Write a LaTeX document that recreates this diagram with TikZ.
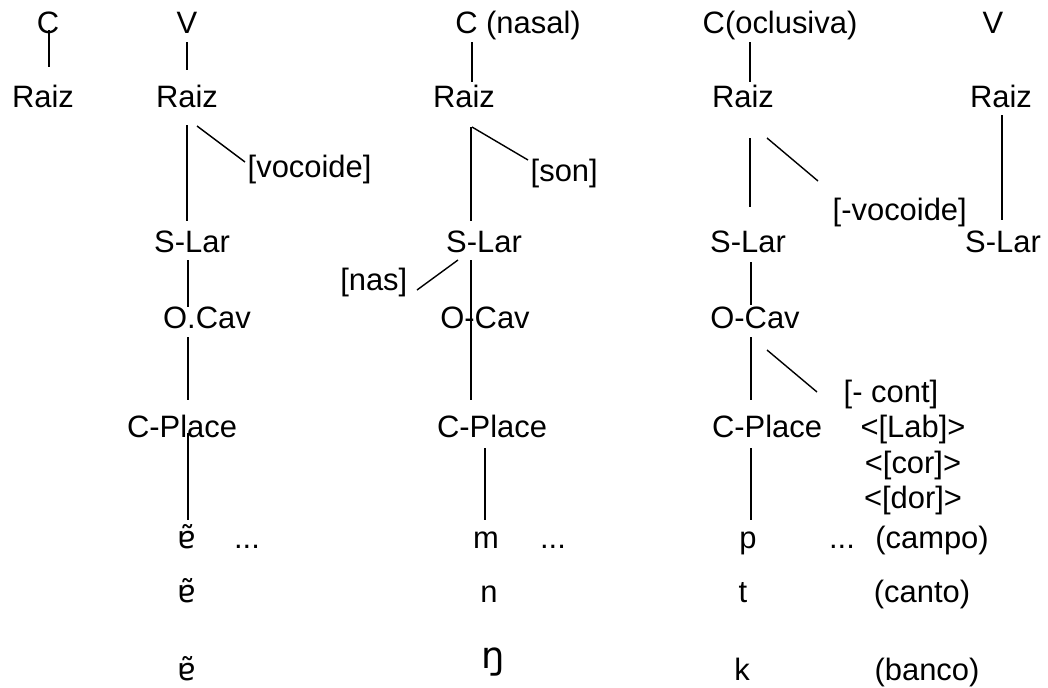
\documentclass[tikz,border=0pt]{standalone}
\usepackage{fontspec}
\setmainfont{Liberation Sans}
\newfontfamily\ipafont{DejaVu Sans}
\begin{document}
\begin{tikzpicture}[x=0.02cm,y=-0.02cm,line width=0.8pt,
    every node/.style={anchor=base,inner sep=0pt,font=\fontsize{17.6}{20}\selectfont},
    feat/.style={anchor=base west}]
\useasboundingbox (0,0) rectangle (1048,687);

% C
\node (c0) at (48,33) {C};
\node (raiz0) at (43,107) {Raiz};
\draw ([shift={(1,-3)}]c0.base) -- ([shift={(6,-40)}]raiz0.base);

% V
\node (v1) at (187,33) {V};
\node (raiz1) at (187,107) {Raiz};
\node[feat] (voc) at (247,177) {[vocoide]};
\node (slar1) at (192,252) {S-Lar};
\node (ocav1) at (207,328) {O.Cav};
\node (cpl1) at (182,437) {C-Place};
\node (e1) at (187,548) {\ipafont ɐ̃};
\node (dots1) at (247,548) {...};
\node (e2) at (187,602) {\ipafont ɐ̃};
\node (e3) at (187,680) {\ipafont ɐ̃};
\draw ([shift={(0,9)}]v1.base) -- ([shift={(0,-37)}]raiz1.base);
\draw ([shift={(0,18)}]raiz1.base) -- ([shift={(-5,-31)}]slar1.base);
\draw ([shift={(10,19)}]raiz1.base) -- ([shift={(-2,-15)}]voc.base west);
\draw ([shift={(-4,8)}]slar1.base) -- ([shift={(-19,-21)}]ocav1.base);
\draw ([shift={(-19,9)}]ocav1.base) -- ([shift={(6,-37)}]cpl1.base);
\draw ([shift={(6,-4)}]cpl1.base) -- ([shift={(1,-28)}]e1.base);

% C (nasal)
\node (cnas) at (518,33) {C (nasal)};
\node (raiz2) at (464,107) {Raiz};
\node[feat] (son) at (530,181) {[son]};
\node (slar2) at (484,252) {S-Lar};
\node[anchor=base east] (nas) at (408,290) {[nas]};
\node (ocav2) at (485,328) {O-Cav};
\node (cpl2) at (492,437) {C-Place};
\node (m) at (486,548) {m};
\node (dots2) at (553,548) {...};
\node (n) at (489,602) {n};
\node (ng) at (493,668) {\ipafont\fontsize{21}{24}\selectfont ŋ};
\draw ([shift={(-46,9)}]cnas.base) -- ([shift={(8,-25)}]raiz2.base);
\draw ([shift={(7,20)}]raiz2.base) -- ([shift={(-13,-31)}]slar2.base);
\draw ([shift={(8,20)}]raiz2.base) -- ([shift={(-2,-21)}]son.base west);
\draw ([shift={(-13,8)}]slar2.base) -- ([shift={(-14,-8)}]ocav2.base);
\draw ([shift={(-14,-8)}]ocav2.base) -- ([shift={(-21,-37)}]cpl2.base);
\draw ([shift={(-26,8)}]slar2.base) -- ([shift={(9,0)}]nas.base east);
\draw ([shift={(-7,11)}]cpl2.base) -- ([shift={(-1,-28)}]m.base);

% C(oclusiva)
\node (cocl) at (780,33) {C(oclusiva)};
\node (raiz3) at (743,107) {Raiz};
\node[feat] (nvoc) at (832,220) {[-vocoide]};
\node (slar3) at (748,252) {S-Lar};
\node (ocav3) at (755,328) {O-Cav};
\node[feat] (cont) at (843,402) {[- cont]};
\node (cpl3) at (767,437) {C-Place};
\node (lab) at (913,437) {<[Lab]>};
\node (cor) at (913,473) {<[cor]>};
\node (dor) at (913,508) {<[dor]>};
\node (p) at (748,548) {p};
\node (dots3) at (842,548) {...};
\node (campo) at (932,548) {(campo)};
\node (t) at (743,602) {t};
\node (canto) at (922,602) {(canto)};
\node (k) at (742,680) {k};
\node (banco) at (927,680) {(banco)};
\draw ([shift={(-30,9)}]cocl.base) -- ([shift={(7,-25)}]raiz3.base);
\draw ([shift={(7,31)}]raiz3.base) -- ([shift={(2,-45)}]slar3.base);
\draw ([shift={(24,31)}]raiz3.base) -- ([shift={(-14,-39)}]nvoc.base west);
\draw ([shift={(3,10)}]slar3.base) -- ([shift={(-4,-23)}]ocav3.base);
\draw ([shift={(-4,9)}]ocav3.base) -- ([shift={(-16,-37)}]cpl3.base);
\draw ([shift={(12,22)}]ocav3.base) -- ([shift={(-26,-10)}]cont.base west);
\draw ([shift={(-16,11)}]cpl3.base) -- ([shift={(3,-28)}]p.base);

% V
\node (v4) at (993,33) {V};
\node (raiz4) at (1001,107) {Raiz};
\node (slar4) at (1003,252) {S-Lar};
\draw ([shift={(1,8)}]raiz4.base) -- ([shift={(-1,-32)}]slar4.base);

\end{tikzpicture}
\end{document}
